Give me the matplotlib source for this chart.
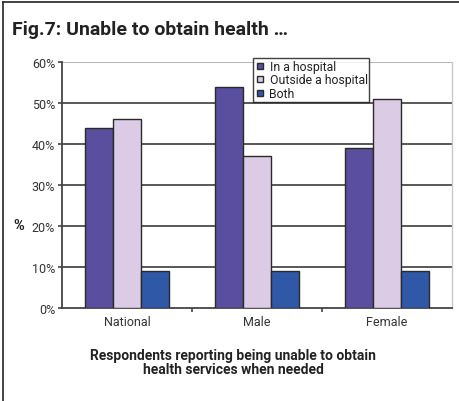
import matplotlib
matplotlib.use('Agg')
from matplotlib import pyplot as plt
from matplotlib.lines import Line2D
import numpy as np

plt.rcParams['font.family'] = ['Roboto', 'DejaVu Sans']

groups = ['National', 'Male', 'Female']
series = ['In a hospital', 'Outside a hospital', 'Both']
in_hospital = [44, 54, 39]
outside_hospital = [46, 37, 51]
both = [9, 9, 9]
yticks = [0, 10, 20, 30, 40, 50, 60]

colors = ['#5a4f9e', '#dccbe5', '#2f58a6']
edge = '#2a2a2a'

fig = plt.figure(figsize=(4.6, 4.02), dpi=100)
ax = fig.add_axes([0.1348, 0.2313, 0.8478, 0.612])

x = np.arange(len(groups))
w = 0.217
for i, vals in enumerate([in_hospital, outside_hospital, both]):
    ax.bar(x + (i - 1) * w, vals, w, color=colors[i], edgecolor=edge,
           linewidth=1.0, zorder=3)

ax.set_xlim(-0.5, 2.5)
ax.set_ylim(0, 60)
ax.set_yticks(yticks)
ax.set_yticklabels(['%d%%' % v for v in yticks], fontsize=9, color='#333333')
for v in yticks[1:-1]:
    ax.axhline(v, color='#4a4a4a', lw=1.3, zorder=1)
ax.axhline(60, color='#b0b0b0', lw=1.3, zorder=1)

ax.set_xticks(x)
ax.set_xticklabels(groups, fontsize=9, color='#333333')
ax.tick_params(axis='x', length=0, pad=5)
ax.set_xticks([0.5, 1.5], minor=True)
ax.tick_params(axis='x', which='minor', length=3, width=1.2, color='#444444')
ax.tick_params(axis='y', length=3, width=1.2, color='#444444', pad=2)

ax.spines['left'].set_color('#444444')
ax.spines['left'].set_linewidth(1.3)
ax.spines['bottom'].set_color('#444444')
ax.spines['bottom'].set_linewidth(1.3)
ax.spines['top'].set_visible(False)
ax.spines['right'].set_color('#c8c8c8')
ax.spines['right'].set_linewidth(1.0)

fig.text(13 / 460, 1 - 226 / 402, '%', fontsize=10.5, fontweight='bold',
         color='#222222', ha='left', va='center')

handles = [Line2D([], [], ls='none', marker='s', markersize=4,
                  markerfacecolor=c, markeredgecolor=edge, markeredgewidth=1.0)
           for c in colors]
leg = fig.legend(handles, series, loc='upper left',
                 bbox_to_anchor=(253 / 460, 1 - 59 / 402), fontsize=8.8,
                 frameon=True, fancybox=False, borderpad=0.15,
                 labelspacing=0.05, handlelength=0.8, handletextpad=0.4,
                 borderaxespad=0)
leg.get_frame().set_edgecolor('#111111')
leg.get_frame().set_linewidth(1.0)
for t in leg.get_texts():
    t.set_color('#222222')

fig.text(12 / 460, 1 - 30 / 402, 'Fig.7: Unable to obtain health \u2026',
         fontsize=14, fontweight='bold', color='#222222',
         ha='left', va='center')

fig.text(233 / 460, 1 - 363 / 402,
         'Respondents reporting being unable to obtain\nhealth services when needed',
         fontsize=10, fontweight='bold', color='#222222',
         ha='center', va='center', linespacing=1.0)

# frame lines along the top and left edges
fig.add_artist(Line2D([3 / 460, 1], [1 - 3 / 402, 1 - 3 / 402],
                      color='#222222', lw=1.2))
fig.add_artist(Line2D([3 / 460, 3 / 460], [0, 1 - 3 / 402],
                      color='#222222', lw=1.2))

fig.savefig('out.png', dpi=100)
